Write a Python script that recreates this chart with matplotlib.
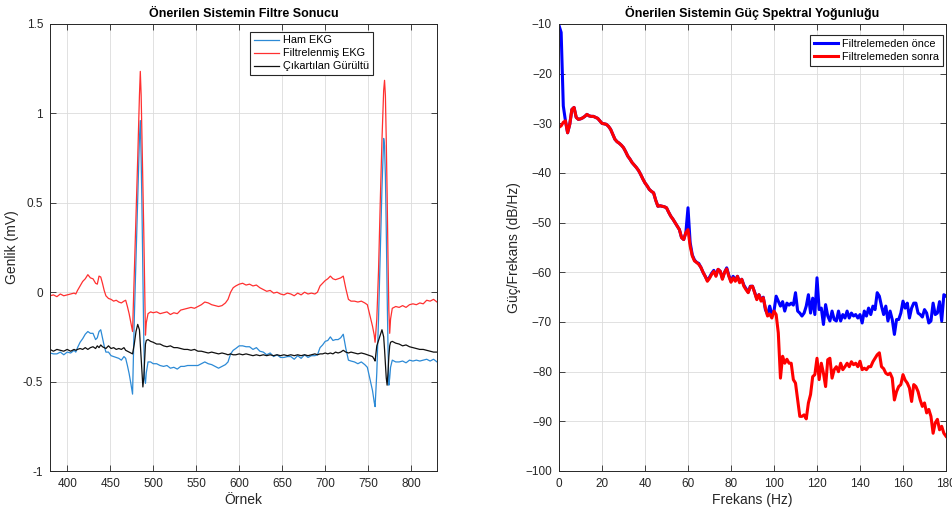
import matplotlib
matplotlib.use("Agg")
import matplotlib.pyplot as plt

plt.rcParams['font.family'] = ['Liberation Sans', 'DejaVu Sans']

# ---------------- Left panel data ----------------
ornek = [380, 384, 388, 392, 396, 400, 404, 408, 410, 412, 415, 418, 421, 424, 427, 430, 433, 435, 437, 439,
         441, 443, 445, 448, 451, 454, 457, 460, 463, 466, 468, 470, 472, 474, 476, 478, 480, 482, 484, 485,
         486, 487, 488, 489, 490, 491, 492, 494, 497, 500, 504, 508, 512, 516, 520, 524, 528, 532, 536, 540,
         544, 548, 552, 556, 560, 564, 568, 572, 576, 580, 584, 587, 590, 593, 596, 600, 604, 608, 612, 616,
         620, 624, 628, 632, 636, 640, 644, 648, 652, 656, 660, 664, 668, 672, 676, 680, 684, 688, 691, 694,
         697, 700, 703, 706, 709, 712, 715, 718, 721, 724, 727, 730, 734, 738, 742, 746, 749, 752, 755, 757,
         758, 760, 762, 764, 766, 768, 769, 770, 771, 772, 773, 774, 775, 776, 778, 782, 786, 790, 794, 798,
         802, 806, 810, 814, 818, 822, 826, 830]

filtrelenmis = [-0.02, -0.015, -0.025, -0.01, -0.02, -0.015, -0.01, -0.005, -0.01, 0.01, 0.035, 0.06, 0.075, 0.098, 0.08, 0.075, 0.05, 0.045, 0.09, 0.085,
                0.05, 0.01, -0.02, -0.035, -0.04, -0.05, -0.045, -0.055, -0.06, -0.05, -0.045, -0.08, -0.12, -0.17, -0.22, 0.10, 0.42, 0.75, 1.10, 1.235,
                1.10, 0.85, 0.60, 0.35, 0.05, -0.24, -0.17, -0.12, -0.11, -0.115, -0.11, -0.12, -0.115, -0.11, -0.125, -0.115, -0.12, -0.10, -0.095, -0.09,
                -0.085, -0.09, -0.08, -0.07, -0.055, -0.06, -0.07, -0.075, -0.08, -0.075, -0.06, -0.04, 0.0, 0.025, 0.035, 0.045, 0.05, 0.04, 0.045, 0.035,
                0.04, 0.025, 0.015, 0.005, 0.01, -0.005, 0.0, -0.01, -0.015, -0.005, -0.01, -0.02, -0.005, -0.015, 0.0, -0.01, -0.005, -0.01, 0.0, 0.035,
                0.05, 0.065, 0.075, 0.09, 0.075, 0.07, 0.075, 0.08, 0.09, 0.02, -0.04, -0.05, -0.05, -0.055, -0.05, -0.06, -0.07, -0.13, -0.19, -0.24,
                -0.28, -0.15, 0.12, 0.50, 0.85, 1.13, 1.185, 1.10, 0.85, 0.55, 0.20, -0.10, -0.23, -0.15, -0.09, -0.08, -0.085, -0.075, -0.085, -0.07,
                -0.065, -0.07, -0.06, -0.065, -0.045, -0.05, -0.04, -0.055]

gurultu = [-0.32, -0.33, -0.32, -0.325, -0.33, -0.32, -0.33, -0.32, -0.325, -0.32, -0.315, -0.32, -0.31, -0.32, -0.31, -0.305, -0.315, -0.30, -0.31, -0.295,
           -0.305, -0.31, -0.315, -0.30, -0.315, -0.31, -0.32, -0.315, -0.32, -0.31, -0.325, -0.33, -0.335, -0.34, -0.345, -0.29, -0.22, -0.18, -0.21, -0.29,
           -0.37, -0.46, -0.53, -0.48, -0.38, -0.29, -0.27, -0.265, -0.275, -0.28, -0.29, -0.29, -0.30, -0.305, -0.30, -0.31, -0.31, -0.315, -0.32, -0.32,
           -0.325, -0.32, -0.33, -0.33, -0.335, -0.34, -0.335, -0.34, -0.345, -0.34, -0.345, -0.35, -0.345, -0.35, -0.35, -0.345, -0.35, -0.345, -0.35, -0.355,
           -0.35, -0.355, -0.35, -0.355, -0.35, -0.355, -0.35, -0.355, -0.35, -0.355, -0.35, -0.355, -0.35, -0.355, -0.35, -0.355, -0.35, -0.345, -0.35, -0.345,
           -0.345, -0.34, -0.345, -0.34, -0.345, -0.335, -0.34, -0.335, -0.325, -0.335, -0.34, -0.335, -0.34, -0.345, -0.34, -0.345, -0.35, -0.355, -0.36, -0.375,
           -0.385, -0.30, -0.27, -0.24, -0.21, -0.25, -0.32, -0.40, -0.48, -0.52, -0.45, -0.36, -0.30, -0.28, -0.275, -0.285, -0.29, -0.30, -0.295, -0.305,
           -0.31, -0.315, -0.32, -0.32, -0.325, -0.33, -0.335, -0.335]

ham = [-0.34, -0.345, -0.345, -0.335, -0.35, -0.335, -0.34, -0.325, -0.335, -0.31, -0.28, -0.26, -0.235, -0.22, -0.23, -0.23, -0.265, -0.255, -0.22, -0.21,
       -0.255, -0.30, -0.335, -0.335, -0.355, -0.36, -0.365, -0.37, -0.38, -0.36, -0.37, -0.41, -0.455, -0.51, -0.57, -0.15, 0.18, 0.52, 0.86, 0.96,
       0.75, 0.45, 0.10, -0.25, -0.48, -0.51, -0.45, -0.39, -0.39, -0.40, -0.40, -0.41, -0.415, -0.41, -0.425, -0.42, -0.43, -0.415, -0.415, -0.41,
       -0.41, -0.41, -0.41, -0.40, -0.39, -0.40, -0.405, -0.415, -0.425, -0.415, -0.405, -0.39, -0.345, -0.325, -0.315, -0.30, -0.30, -0.305, -0.305, -0.32,
       -0.31, -0.33, -0.335, -0.35, -0.34, -0.36, -0.35, -0.365, -0.365, -0.36, -0.36, -0.375, -0.355, -0.37, -0.35, -0.365, -0.355, -0.355, -0.35, -0.31,
       -0.295, -0.275, -0.27, -0.25, -0.27, -0.265, -0.265, -0.255, -0.235, -0.315, -0.38, -0.385, -0.39, -0.40, -0.39, -0.405, -0.42, -0.485, -0.55, -0.615,
       -0.64, -0.45, -0.15, 0.22, 0.58, 0.86, 0.82, 0.65, 0.35, 0.0, -0.30, -0.52, -0.48, -0.42, -0.38, -0.39, -0.39, -0.385, -0.395, -0.38,
       -0.385, -0.38, -0.385, -0.38, -0.375, -0.385, -0.375, -0.39]

# ---------------- Right panel data ----------------
frekans = list(range(0, 181))

psd_sonra = [-30.8, -30.5, -29.8, -29.5, -31.9, -30.2, -27.2, -26.8, -28.8, -29.2,
             -29.1, -28.9, -28.6, -28.2, -28.5, -28.6, -28.6, -28.8, -29.0, -29.5,
             -30.0, -30.1, -30.2, -30.6, -31.2, -32.2, -33.2, -33.7, -34.0, -34.4,
             -34.9, -35.7, -36.6, -37.2, -37.9, -38.4, -38.9, -39.5, -40.3, -41.2,
             -42.0, -42.6, -43.3, -43.7, -44.0, -45.5, -46.7, -46.6, -46.7, -46.8,
             -47.0, -47.9, -48.7, -49.3, -50.0, -50.7, -51.4, -53.0, -53.4, -52.0,
             -51.4, -54.7, -56.7, -57.7, -58.0, -58.4, -59.0, -60.0, -60.8, -61.8,
             -61.2, -60.4, -59.8, -60.8, -59.4, -59.8, -61.4, -60.0, -59.3, -60.8,
             -62.0, -61.1, -61.8, -60.8, -62.1, -61.4, -62.8, -63.5, -64.1, -62.9,
             -62.8, -64.1, -65.5, -64.5, -65.8, -65.1, -67.2, -68.8, -68.4, -69.2,
             -67.8, -68.5, -72.2, -81.3, -76.9, -78.3, -77.5, -78.3, -78.3, -81.6,
             -82.3, -85.7, -89.0, -89.0, -88.7, -89.5, -86.3, -84.6, -81.0, -80.6,
             -77.3, -81.6, -78.3, -80.3, -83.0, -77.6, -77.3, -81.3, -79.6, -79.0,
             -80.0, -78.3, -79.6, -79.0, -78.3, -79.0, -78.0, -78.6, -78.3, -79.0,
             -77.9, -79.6, -79.3, -79.6, -79.0, -79.0, -78.0, -77.3, -76.6, -76.2,
             -79.0, -79.4, -80.3, -80.6, -80.3, -81.3, -85.7, -84.0, -83.0, -82.6,
             -80.6, -81.7, -82.3, -83.3, -86.0, -82.6, -83.0, -84.0, -85.7, -87.0,
             -86.3, -88.3, -87.6, -89.0, -92.4, -90.3, -89.6, -91.7, -91.0, -92.4,
             -93.0]

psd_once = [-10.3, -11.7, -26.5, -29.5, -31.9, -30.2, -27.2, -26.8, -28.8, -29.2,
            -29.1, -28.9, -28.6, -28.2, -28.5, -28.6, -28.6, -28.8, -29.0, -29.5,
            -30.0, -30.1, -30.2, -30.6, -31.2, -32.2, -33.2, -33.7, -34.0, -34.4,
            -34.9, -35.7, -36.6, -37.2, -37.9, -38.4, -38.9, -39.5, -40.3, -41.2,
            -42.0, -42.6, -43.3, -43.7, -44.0, -45.5, -46.7, -46.6, -46.7, -46.8,
            -47.0, -47.9, -48.7, -49.3, -50.0, -50.7, -51.4, -53.0, -53.4, -52.0,
            -47.0, -54.0, -56.5, -57.5, -58.0, -58.2, -59.0, -60.0, -60.8, -61.6,
            -61.0, -60.2, -59.6, -60.6, -59.4, -59.8, -61.2, -60.0, -59.1, -60.6,
            -61.8, -60.8, -61.6, -60.8, -61.9, -61.4, -62.6, -63.3, -64.0, -62.8,
            -62.8, -64.0, -65.3, -64.5, -65.5, -65.0, -67.5, -68.5, -66.8, -68.5,
            -67.8, -64.8, -65.8, -66.8, -65.9, -67.8, -66.2, -66.6, -66.2, -66.6,
            -64.1, -67.8, -68.2, -68.8, -68.2, -66.8, -64.5, -68.2, -65.2, -68.5,
            -61.1, -67.5, -67.2, -70.5, -66.5, -68.8, -69.8, -67.8, -69.5, -69.8,
            -67.8, -69.8, -68.5, -69.2, -67.8, -69.2, -68.2, -68.8, -68.5, -69.2,
            -68.5, -70.2, -67.8, -68.8, -67.2, -68.5, -66.8, -67.5, -64.1, -64.8,
            -66.8, -68.5, -66.8, -69.8, -67.8, -69.5, -72.5, -69.5, -69.5, -68.2,
            -65.8, -67.2, -66.2, -69.2, -67.2, -66.2, -66.2, -68.2, -68.5, -69.0,
            -67.5, -68.2, -70.2, -69.8, -66.2, -68.5, -68.2, -65.9, -69.8, -64.5,
            -64.8]

# ---------------- Figure ----------------
fig = plt.figure(figsize=(9.53, 5.12), dpi=100)
ax1 = fig.add_axes([50/953, 41/512, 387/953, 447/512])
ax2 = fig.add_axes([559/953, 41/512, 387/953, 447/512])

txt = '#262626'

def style(ax):
    ax.grid(True, color='#dcdcdc', linewidth=0.6)
    ax.set_axisbelow(True)
    for s in ax.spines.values():
        s.set_color(txt)
        s.set_linewidth(0.7)
    ax.tick_params(direction='in', top=True, right=True, length=4, width=0.6,
                   colors=txt, labelsize=8.5, pad=5)

ax1.plot(ornek, ham, color='#2c8ad6', linewidth=0.9, label='Ham EKG')
ax1.plot(ornek, filtrelenmis, color='#ff3030', linewidth=0.9, label='Filtrelenmiş EKG')
ax1.plot(ornek, gurultu, color='#101010', linewidth=0.9, label='Çıkartılan Gürültü')
ax1.set_xlim(380, 830)
ax1.set_ylim(-1, 1.5)
ax1.set_xticks([400, 450, 500, 550, 600, 650, 700, 750, 800])
ax1.set_yticks([-1, -0.5, 0, 0.5, 1, 1.5])
ax1.set_yticklabels(['-1', '-0.5', '0', '0.5', '1', '1.5'])
style(ax1)
ax1.set_title('Önerilen Sistemin Filtre Sonucu', fontsize=9, fontweight='bold', pad=5)
ax1.set_xlabel('Örnek', fontsize=10, color=txt, labelpad=2)
ax1.set_ylabel('Genlik (mV)', fontsize=10, color=txt, labelpad=3)
leg1 = ax1.legend(loc='upper left', bbox_to_anchor=(0.517, 0.983), fontsize=7.8,
                  fancybox=False, framealpha=1, edgecolor='#262626', handlelength=2.3,
                  borderpad=0.35, labelspacing=0.28, handletextpad=0.4, borderaxespad=0)
leg1.get_frame().set_linewidth(0.8)

ax2.plot(frekans, psd_once, color='#0000ff', linewidth=2.2, label='Filtrelemeden önce')
ax2.plot(frekans, psd_sonra, color='#ff0000', linewidth=2.2, label='Filtrelemeden sonra')
ax2.set_xlim(0, 180)
ax2.set_ylim(-100, -10)
ax2.set_xticks(list(range(0, 181, 20)))
ax2.set_yticks(list(range(-100, -9, 10)))
style(ax2)
ax2.set_title('Önerilen Sistemin Güç Spektral Yoğunluğu', fontsize=9, fontweight='bold', pad=5)
ax2.set_xlabel('Frekans (Hz)', fontsize=10, color=txt, labelpad=2)
ax2.set_ylabel('Güç/Frekans (dB/Hz)', fontsize=10, color=txt, labelpad=3)
leg2 = ax2.legend(loc='upper left', bbox_to_anchor=(0.649, 0.975), fontsize=7.8,
                  fancybox=False, framealpha=1, edgecolor='#262626', handlelength=2.2,
                  borderpad=0.35, labelspacing=0.28, handletextpad=0.4, borderaxespad=0)
leg2.get_frame().set_linewidth(0.8)

fig.savefig('out.png', dpi=100)
